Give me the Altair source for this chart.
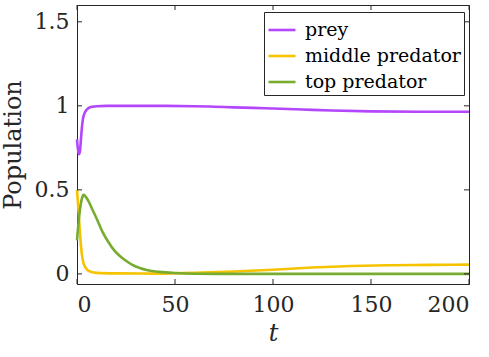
import altair as alt
import pandas as pd

# Time points and values
t_prey = [0, 0.5, 1, 1.5, 2, 2.5, 3, 4, 5, 6, 8, 10, 15, 20, 40, 60, 70, 80, 90, 100, 115, 130, 150, 175, 200]
prey = [0.80, 0.74, 0.712, 0.73, 0.80, 0.87, 0.92, 0.96, 0.978, 0.988, 0.995, 0.998, 1.0, 1.0, 1.0, 0.998, 0.995, 0.991, 0.988, 0.984, 0.978, 0.972, 0.967, 0.965, 0.965]

t_mid = [0, 0.5, 1, 1.5, 2, 3, 4, 5, 7, 10, 20, 40, 60, 80, 100, 120, 140, 160, 180, 200]
mid = [0.50, 0.42, 0.33, 0.25, 0.17, 0.08, 0.045, 0.027, 0.013, 0.006, 0.003, 0.002, 0.006, 0.014, 0.025, 0.038, 0.047, 0.052, 0.054, 0.055]

t_top = [0, 1, 2, 3, 3.5, 4, 5, 6, 8, 10, 13, 16, 19, 22, 25, 28, 32, 36, 42, 50, 60, 80, 120, 200]
top = [0.20, 0.33, 0.42, 0.465, 0.47, 0.465, 0.45, 0.43, 0.38, 0.33, 0.25, 0.19, 0.14, 0.105, 0.078, 0.055, 0.035, 0.022, 0.012, 0.005, 0.001, 0.0, 0.0, 0.0]

series_names = ["prey", "middle predator", "top predator"]
series_colors = ["#b446fb", "#f5c300", "#77ac30"]

x_ticks = [0, 50, 100, 150, 200]
y_ticks = [0, 0.5, 1, 1.5]

rows = []
for name, ts, vs in zip(series_names, [t_prey, t_mid, t_top], [prey, mid, top]):
    for i, (t, v) in enumerate(zip(ts, vs)):
        rows.append({"t": t, "value": v, "series": name, "order": i})
df = pd.DataFrame(rows)

W, H = 392, 279
FONT = "DejaVu Serif"
AX = "#262626"

xscale = alt.Scale(domain=[0, 200], nice=False, zero=False)
yscale = alt.Scale(domain=[-0.06, 1.6], nice=False, zero=False)

lines = alt.Chart(df).mark_line(strokeWidth=2.6, interpolate="monotone").encode(
    x=alt.X("t:Q", scale=xscale,
            axis=alt.Axis(values=x_ticks, ticks=False, grid=False, title="t",
                          titleFontStyle="italic", titleFontWeight="normal",
                          labelPadding=10, titlePadding=6,
                          labelExpr="toString(datum.value)")),
    y=alt.Y("value:Q", scale=yscale,
            axis=alt.Axis(values=y_ticks, ticks=False, grid=False, title="Population",
                          titleFontWeight="normal", labelPadding=8, titlePadding=9,
                          labelExpr="toString(datum.value)")),
    color=alt.Color("series:N",
                    scale=alt.Scale(domain=series_names, range=series_colors),
                    sort=series_names,
                    legend=alt.Legend(title=None, orient="none", legendX=187, legendY=7,
                                      symbolType="stroke", symbolSize=729,
                                      symbolStrokeWidth=2.6, labelFontSize=19,
                                      labelFont=FONT, labelColor="black",
                                      labelOffset=8, padding=3, rowPadding=1,
                                      strokeColor=AX, fillColor="white",
                                      labelLimit=300)),
    order="order:Q",
)

xt = pd.DataFrame({"tick": x_ticks})
yt = pd.DataFrame({"tick": y_ticks})

xb = alt.Chart(xt).mark_rule(color=AX, strokeWidth=1).encode(
    x=alt.X("tick:Q", scale=xscale), y=alt.value(H), y2=alt.value(H - 5))
xtop = alt.Chart(xt).mark_rule(color=AX, strokeWidth=1).encode(
    x=alt.X("tick:Q", scale=xscale), y=alt.value(0), y2=alt.value(5))
yl = alt.Chart(yt).mark_rule(color=AX, strokeWidth=1).encode(
    y=alt.Y("tick:Q", scale=yscale), x=alt.value(0), x2=alt.value(5))
yr = alt.Chart(yt).mark_rule(color=AX, strokeWidth=1).encode(
    y=alt.Y("tick:Q", scale=yscale), x=alt.value(W), x2=alt.value(W - 5))

chart = alt.layer(lines, xb, xtop, yl, yr).properties(
    width=W, height=H,
    autosize=alt.AutoSizeParams(type="none"),
    padding={"left": 77, "top": 5, "right": 20, "bottom": 73},
    background="white",
).configure(
    font=FONT
).configure_view(
    stroke=AX, strokeWidth=1
).configure_axis(
    labelFont=FONT, titleFont=FONT, labelFontSize=22, titleFontSize=24,
    labelColor=AX, titleColor=AX, domainColor=AX, domainWidth=1,
).configure_legend(
    labelFont=FONT
)

chart.save("out.html", embed_options={"renderer": "svg", "actions": False})
